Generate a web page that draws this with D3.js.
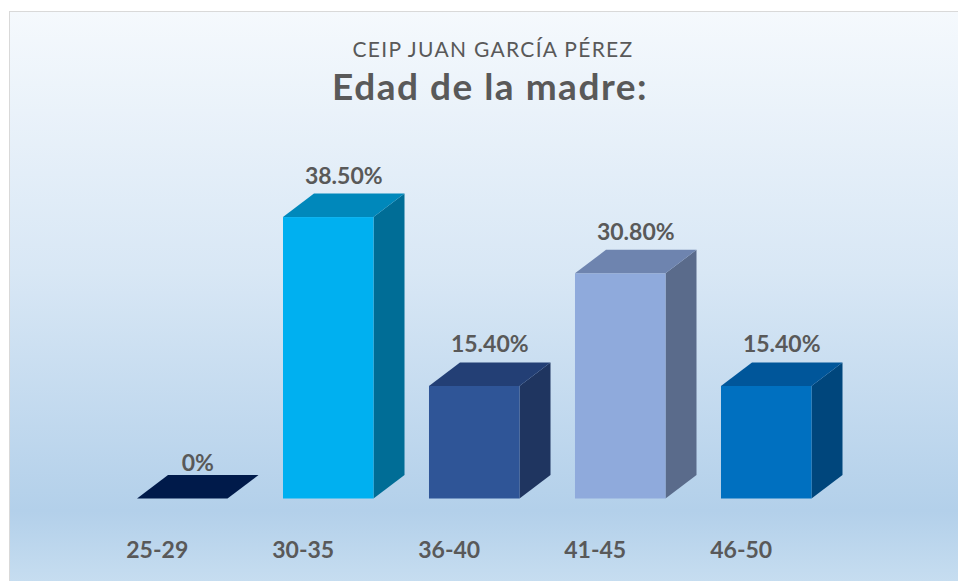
<!DOCTYPE html>
<html>
  <head>
    <meta charset="utf-8">
    <title>Edad de la madre</title>
    <script src="https://d3js.org/d3.v7.min.js"></script>
    <style>
      body { margin: 0; background: #ffffff; }
      svg { display: block; }
      text { font-family: Lato, "Open Sans", sans-serif; fill: #595959; }
    </style>
  </head>
  <body>
    <svg id="svg"></svg>
    <script type="text/javascript">
// data
var categories = ["25-29", "30-35", "36-40", "41-45", "46-50"];
var values = [0, 38.5, 15.4, 30.8, 15.4];
var labels = ["0%", "38.50%", "15.40%", "30.80%", "15.40%"];
var frontColors = ["#002060", "#00b0f0", "#2f5597", "#8faadc", "#0070c0"];
var topColors = ["#001a4a", "#0088bb", "#233f75", "#6e84af", "#00569a"];
var sideColors = ["#00143a", "#006d96", "#1f3560", "#5a6b8b", "#00467c"];

var W = 958, H = 581;
var svg = d3.select('#svg').attr('width', W).attr('height', H);

// background gradient
var grad = svg.append('defs').append('linearGradient')
  .attr('id', 'bg').attr('x1', 0).attr('y1', 0).attr('x2', 0).attr('y2', 1);
grad.append('stop').attr('offset', '0%').attr('stop-color', '#f5f9fd');
grad.append('stop').attr('offset', '45%').attr('stop-color', '#d8e7f5');
grad.append('stop').attr('offset', '86%').attr('stop-color', '#b3d0ea');
grad.append('stop').attr('offset', '100%').attr('stop-color', '#c9dff1');

svg.append('rect')
  .attr('x', 9.5).attr('y', 11.5)
  .attr('width', W).attr('height', H)
  .style('fill', 'url(#bg)')
  .style('stroke', '#d9d9d9');

// titles
svg.append('text')
  .attr('x', 493).attr('y', 57)
  .attr('text-anchor', 'middle')
  .style('font-size', '21px')
  .style('letter-spacing', '1.3px')
  .text('CEIP JUAN GARCÍA PÉREZ');

svg.append('text')
  .attr('x', 490).attr('y', 100)
  .attr('text-anchor', 'middle')
  .style('font-size', '37px')
  .style('font-weight', 'bold')
  .style('letter-spacing', '1.5px')
  .text('Edad de la madre:');

// scales
var x = d3.scaleBand()
  .domain(categories)
  .range([137, 811.5])
  .paddingInner(0.38)
  .paddingOuter(0);

var y = d3.scaleLinear()
  .domain([0, 40])
  .range([498.5, 498.5 - 292.4]);

var dx = 31, dy = 23.5;

var rows = categories.map(function(c, i) {
  return { cat: c, v: values[i], label: labels[i], i: i };
});

var bars = svg.selectAll('g.bar')
  .data(rows)
  .enter()
  .append('g')
  .attr('class', 'bar');

// side face
bars.append('path')
  .attr('d', function(d) {
    var x1 = x(d.cat) + x.bandwidth(), y0 = y(0), yt = y(d.v);
    return 'M' + x1 + ',' + y0 + 'L' + x1 + ',' + yt +
      'L' + (x1 + dx) + ',' + (yt - dy) + 'L' + (x1 + dx) + ',' + (y0 - dy) + 'Z';
  })
  .style('fill', function(d) { return sideColors[d.i]; });

// front face
bars.append('rect')
  .attr('x', function(d) { return x(d.cat); })
  .attr('y', function(d) { return y(d.v); })
  .attr('width', x.bandwidth())
  .attr('height', function(d) { return y(0) - y(d.v); })
  .style('fill', function(d) { return frontColors[d.i]; });

// top face
bars.append('path')
  .attr('d', function(d) {
    var x0 = x(d.cat), x1 = x0 + x.bandwidth(), yt = y(d.v);
    return 'M' + x0 + ',' + yt + 'L' + (x0 + dx) + ',' + (yt - dy) +
      'L' + (x1 + dx) + ',' + (yt - dy) + 'L' + x1 + ',' + yt + 'Z';
  })
  .style('fill', function(d) { return topColors[d.i]; });

// value labels
bars.append('text')
  .attr('x', function(d) { return x(d.cat) + x.bandwidth() / 2 + dx / 2; })
  .attr('y', function(d) { return y(d.v) - dy - (d.v > 0 ? 10 : 4); })
  .attr('text-anchor', 'middle')
  .style('font-size', '23px')
  .style('font-weight', 'bold')
  .text(function(d) { return d.label; });

// category labels
svg.selectAll('text.cat')
  .data(categories)
  .enter()
  .append('text')
  .attr('class', 'cat')
  .attr('x', function(d) { return x(d) + x.bandwidth() / 2 - 25; })
  .attr('y', 558)
  .attr('text-anchor', 'middle')
  .style('font-size', '23px')
  .style('font-weight', 'bold')
  .text(function(d) { return d; });
    </script>
  </body>
</html>
